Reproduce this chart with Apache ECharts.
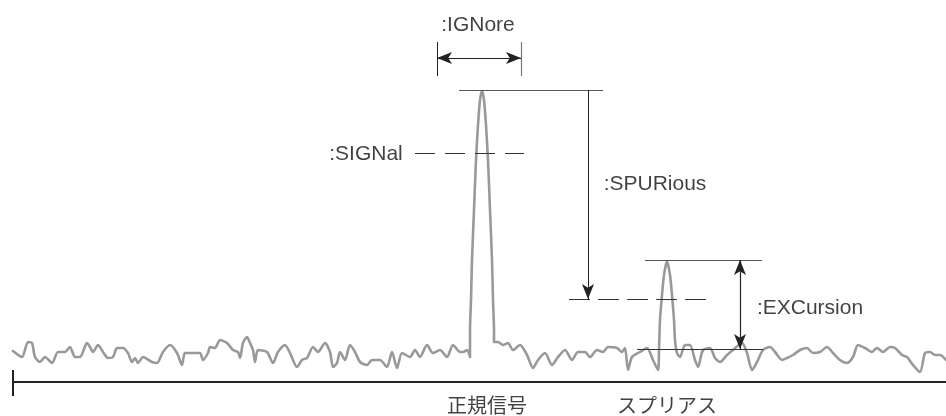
<!DOCTYPE html>
<html>
<head>
<meta charset="utf-8">
<script src="https://cdn.jsdelivr.net/npm/echarts@6/dist/echarts.min.js"></script>
<style>html,body{margin:0;padding:0;background:#fff}#c{width:946px;height:416px}</style>
</head>
<body>
<div id="c"></div>
<script>
// Spectrum trace: [frequency position, level position] (schematic units, y grows downward)
const trace = [
  [13,351],[22,357],[28,342],[32,343],[35,357],[40,362],[45,357],[52,363],[58,352],[65,352],
  [70,347],[75,357],[80,357],[87,343],[90,347],[93,352],[98,345],[103,352],[108,358],[113,357],
  [117,348],[123,348],[128,353],[132,362],[135,358],[138,363],[143,357],[152,362],[157,363],[163,352],
  [170,345],[177,353],[182,365],[185,353],[193,353],[200,353],[203,360],[208,353],[210,347],[215,348],
  [220,340],[227,343],[233,350],[238,352],[240,358],[243,343],[247,337],[250,343],[253,350],[255,362],
  [258,350],[267,352],[273,363],[278,352],[285,345],[290,353],[297,367],[302,360],[307,358],[313,347],
  [318,352],[325,343],[330,352],[333,367],[337,363],[340,352],[345,360],[350,345],[355,352],[360,362],
  [367,365],[372,360],[380,360],[387,367],[392,352],[397,368],[402,353],[410,357],[415,350],[420,357],
  [427,345],[433,353],[440,350],[447,357],[453,345],[460,352],[463,352],[467,350],[470,357],
  [470,330],[471,300],[472,260],[474,210],[476,160],[478,125],[480,100],[482,91],[484,100],[486,125],
  [488,160],[490,210],[492,260],[493,300],[494,330],[494,342],
  [498,342],[503,345],[508,343],[513,350],[520,345],[527,355],[533,368],[538,360],[545,353],[552,365],
  [558,357],[565,350],[572,360],[578,352],[585,352],[590,357],[597,350],[603,352],[608,347],[617,348],
  [622,352],[625,348],[628,370],[632,357],[640,352],[647,348],[653,360],[658,370],
  [659,350],[660,320],[662,295],[664,275],[667,261],[670,275],[672,295],[674,320],[675,340],[677,353],
  [680,357],[685,345],[690,345],[695,360],[698,367],[703,350],[710,348],[715,358],[720,362],[727,355],
  [733,350],[742,343],[747,353],[752,370],[757,362],[763,350],[770,347],[775,352],[782,360],[787,358],
  [793,355],[800,350],[807,348],[813,353],[820,352],[827,347],[833,353],[840,360],[847,363],[853,357],
  [858,345],[865,348],[872,352],[877,348],[883,352],[890,347],[895,348],[902,355],[907,357],[913,365],
  [920,372],[925,353],[930,352],[935,355],[940,355],[946,360]
];

// Key levels (schematic units)
const peakTopLevel = 90, signalLevel = 153, spurThreshold = 299, spurTopLevel = 260, noiseRefLevel = 349, baseLevel = 382;
// Horizontal extents
const ignoreSpan = [437, 521];
const spurArrowX = 588, excArrowX = 740;

// Text labels: [text, x, y]
const labels = [
  [':IGNore', 478, 25, 21, 'Liberation Sans'],
  [':SIGNal', 366, 154, 21, 'Liberation Sans'],
  [':SPURious', 655, 184, 21, 'Liberation Sans'],
  [':EXCursion', 810, 308, 21, 'Liberation Sans'],
  ['正規信号', 487, 405, 20, 'Noto Sans CJK JP'],
  ['スプリアス', 667, 405, 20, 'Noto Sans CJK JP']
];

const dark = '#333', mid = '#555';
function seg(a, b, s1, s2, color, width, type) {
  return [
    {coord: a, symbol: s1 || 'none', lineStyle: {color: color || dark, width: width || 1, type: type || 'solid'}},
    {coord: b, symbol: s2 || 'none'}
  ];
}

const markLines = [
  // axis
  seg([13, baseLevel], [946, baseLevel], null, null, '#222', 2),
  seg([13, 370], [13, 396], null, null, '#222', 2),
  // IGNore
  seg([ignoreSpan[0], 42], [ignoreSpan[0], 76], null, null, '#222', 1),
  seg([ignoreSpan[1], 42], [ignoreSpan[1], 76], null, null, '#777', 1.2),
  seg([ignoreSpan[0], 58], [ignoreSpan[1], 58], 'arrow', 'arrow', '#222', 1),
  // peak top
  seg([459, peakTopLevel], [603, peakTopLevel], null, null, mid, 1.2),
  // SPURious arrow
  seg([spurArrowX, peakTopLevel], [spurArrowX, spurThreshold], null, 'arrow', '#222', 1),
  // SIGNal dashed
  seg([415, signalLevel], [524, signalLevel], null, null, dark, 1, [20, 10]),
  // spur threshold dashed
  seg([569, spurThreshold], [707, spurThreshold], null, null, dark, 1, [21, 8]),
  // spur top
  seg([645, spurTopLevel], [762, spurTopLevel], null, null, mid, 1.2),
  // noise ref
  seg([637, noiseRefLevel], [763, noiseRefLevel], null, null, dark, 1),
  // EXCursion
  seg([excArrowX, spurTopLevel], [excArrowX, noiseRefLevel], 'arrow', 'arrow', '#222', 1.2)
];

const chart = echarts.init(document.getElementById('c'), null, {renderer: 'canvas'});
chart.setOption({
  animation: false,
  backgroundColor: '#fff',
  grid: {left: 0, right: 0, top: 0, bottom: 0},
  xAxis: {type: 'value', min: 0, max: 946, show: false},
  yAxis: {type: 'value', min: 0, max: 416, inverse: true, show: false},
  series: [
    {
      type: 'line',
      data: trace,
      showSymbol: false,
      symbol: 'none',
      smooth: 0.25,
      lineStyle: {color: '#999', width: 2.6, join: 'round', cap: 'round'},
      z: 2,
      markLine: {
        silent: true,
        animation: false,
        symbolSize: [9, 15],
        label: {show: false},
        lineStyle: {color: dark, width: 1, type: 'solid'},
        data: markLines
      }
    },
    {
      type: 'scatter',
      symbolSize: 0,
      silent: true,
      z: 5,
      data: labels.map(l => ({
        value: [l[1], l[2]],
        name: l[0],
        label: {
          show: true, position: 'inside', formatter: l[0], color: '#111',
          fontSize: l[3], fontFamily: l[4], align: 'center', verticalAlign: 'middle'
        }
      }))
    }
  ]
});
</script>
</body>
</html>
